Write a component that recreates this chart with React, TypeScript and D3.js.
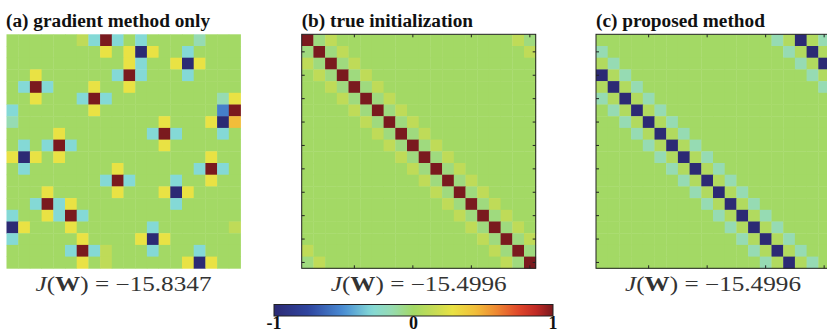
import * as d3 from 'd3';

const panelTitles = ['(a) gradient method only', '(b) true initialization', '(c) proposed method'];
const objectiveValues = ['\u221215.8347', '\u221215.4996', '\u221215.4996'];

// letter codes used in the matrix rows below -> entry of W
const cellCodes = ['.', 'k', 'f', 'l', 'w', 'c', 'y', 'b', 'o', 'B', 'R'];
const cellValues = [0, -0.05, 0.06, -0.16, 0.12, -0.3, 0.28, -0.55, 0.45, -1, 1];

const gradientOnly = [
  '......wcRc.c....l...',
  '........y.yBy..c....',
  '..........yc..yBy...',
  '..y......cRc...c....',
  '.cRc...y..y.........',
  '..y...cRc.........ly',
  'c......y..........bR',
  'l............y...yBo',
  '....y.......cRc...c.',
  '.c.cRc.......y......',
  'yBy.y............y..',
  '.c.......y......cRc.',
  '........cRc...c..y..',
  '...y.....y...yBy....',
  '..cRcy........c.....',
  'c..ycRc.............',
  'By...y......c......w',
  'c.....y....yBy......',
  '.....cRcw...c...c...',
  '......y.w......yBy..',
];

const trueInit = [
  'Rkw...............wk',
  'kRkw...............w',
  'wkRkw...............',
  '.wkRkw..............',
  '..wkRkw.............',
  '...wkRkw............',
  '....wkRkw...........',
  '.....wkRkw..........',
  '......wkRkw.........',
  '.......wkRkw........',
  '........wkRkw.......',
  '.........wkRkw......',
  '..........wkRkw.....',
  '...........wkRkw....',
  '............wkRkw...',
  '.............wkRkw..',
  '..............wkRkw.',
  '...............wkRkw',
  'w...............wkRk',
  'kw...............wkR',
];

const proposed = [
  '...............lfBfl',
  'l...............lfBf',
  'fl...............lfB',
  'Bfl...............lf',
  'fBfl...............l',
  'lfBfl...............',
  '.lfBfl..............',
  '..lfBfl.............',
  '...lfBfl............',
  '....lfBfl...........',
  '.....lfBfl..........',
  '......lfBfl.........',
  '.......lfBfl........',
  '........lfBfl.......',
  '.........lfBfl......',
  '..........lfBfl.....',
  '...........lfBfl....',
  '............lfBfl...',
  '.............lfBfl..',
  '..............lfBfl.',
];

const colorStopValues = [-1, -0.75, -0.5, -0.3, -0.15, 0, 0.15, 0.28, 0.45, 0.6, 0.75, 0.88, 1];
const colorStopColors = [
  '#2c2a74', '#2f45a0', '#4a8ed4', '#84d9d6', '#97dbb0', '#a3d965', '#c6dc55',
  '#e9e244', '#f2bd3a', '#ee8632', '#e0482a', '#c02a25', '#7a1a1e',
];
const colorbarTicks = [-1, 0, 1];
const xTicks = [5, 10, 15, 20];
const yTicks = [2, 4, 6, 8, 10, 12, 14, 16, 18, 20];

export default function App() {
  const width = 827;
  const height = 334;
  const size = 234;
  const top = 34.3;
  const lefts = [6.5, 301.7, 596];

  const color = d3.scaleLinear<string>()
    .domain(colorStopValues)
    .range(colorStopColors)
    .interpolate(d3.interpolateRgb)
    .clamp(true);

  const lookup = new Map(cellCodes.map((k, i) => [k, cellValues[i]]));
  const matrices = [gradientOnly, trueInit, proposed].map(rows =>
    rows.map(r => r.split('').map(ch => lookup.get(ch) ?? 0)));

  const band = d3.scaleBand<number>().domain(d3.range(20)).range([0, size]);
  const bw = band.bandwidth();
  const tickPos = (k: number) => (band(k - 1) as number) + bw / 2;

  const cbX = d3.scaleLinear().domain([-1, 1]).range([274, 553]);
  const gradStops = d3.range(0, 1.0001, 0.02);

  const serif = '"Liberation Serif", "Times New Roman", serif';

  return (
    <div style={{ position: 'absolute', left: 0, top: 0 }}>
      <svg width={width} height={height} style={{ display: 'block', background: '#fff' }}>
        <defs>
          <linearGradient id="cbar" x1="0" x2="1" y1="0" y2="0">
            {gradStops.map(t => (
              <stop key={t} offset={t} stopColor={color(-1 + 2 * t)} />
            ))}
          </linearGradient>
        </defs>

        {matrices.map((m, p) => (
          <g key={p} transform={`translate(${lefts[p]},${top})`}>
            {m.map((row, r) => row.map((v, c) => (
              <rect key={`${r}-${c}`} x={band(c)} y={band(r)} width={bw + 0.4} height={bw + 0.4} fill={color(v)} />
            )))}
            {p > 0 && (
              <g stroke="#222" strokeWidth={1} fill="none">
                <rect x={0} y={0} width={size} height={size} />
                {xTicks.map(k => (
                  <g key={`x${k}`}>
                    <line x1={tickPos(k)} x2={tickPos(k)} y1={0} y2={3} />
                    <line x1={tickPos(k)} x2={tickPos(k)} y1={size} y2={size - 3} />
                  </g>
                ))}
                {yTicks.map(k => (
                  <g key={`y${k}`}>
                    <line y1={tickPos(k)} y2={tickPos(k)} x1={0} x2={3} />
                    <line y1={tickPos(k)} y2={tickPos(k)} x1={size} x2={size - 3} />
                  </g>
                ))}
              </g>
            )}
            <text x={p === 0 ? -0.5 : 0} y={-7.8} fontFamily={serif} fontWeight="bold" fontSize={19.3} fill="#111">
              {panelTitles[p]}
            </text>
            <text x={size / 2} y={257.2} textAnchor="middle" fontFamily={serif} fontSize={20} fill="#333"
              textLength={176} lengthAdjust="spacingAndGlyphs">
              <tspan fontStyle="italic">J</tspan>(<tspan fontWeight="bold">W</tspan>) = {objectiveValues[p]}
            </text>
          </g>
        ))}

        <rect x={cbX(-1)} y={304.5} width={cbX(1) - cbX(-1)} height={11.5} fill="url(#cbar)" stroke="#222" strokeWidth={1} />
        {colorbarTicks.map(t => (
          <text key={t} x={cbX(t)} y={329} textAnchor="middle" fontFamily={serif} fontWeight="bold" fontSize={18} fill="#111">
            {t === -1 ? '-1' : String(t)}
          </text>
        ))}
      </svg>
    </div>
  );
}
